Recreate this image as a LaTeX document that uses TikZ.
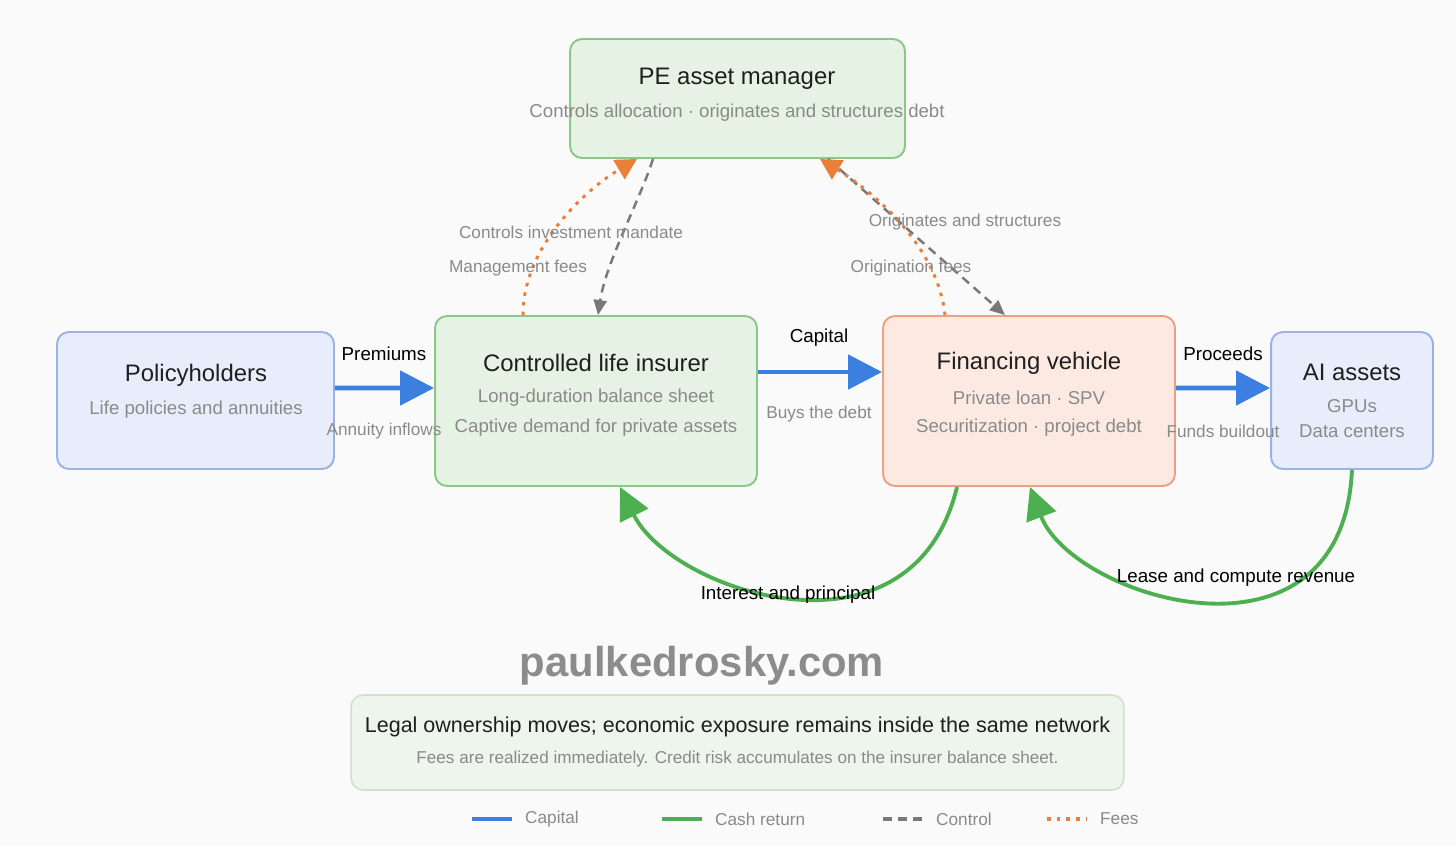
\documentclass[tikz,border=0pt]{standalone}
\usepackage{fontspec}
\setmainfont{Liberation Sans}
\usepackage{xcolor}
\usetikzlibrary{arrows.meta, positioning, calc}

\definecolor{capblue}{HTML}{3B7FE0}
\definecolor{cashgreen}{HTML}{4CAF50}
\definecolor{ctrlgray}{HTML}{787878}
\definecolor{feeorange}{HTML}{E8803A}
\definecolor{boxgreen}{HTML}{E6F2E3}
\definecolor{edgegreen}{HTML}{8CC689}
\definecolor{boxblue}{HTML}{E8EDFB}
\definecolor{edgeblue}{HTML}{9AB2E6}
\definecolor{boxpeach}{HTML}{FCEAE2}
\definecolor{edgepeach}{HTML}{E9A282}
\definecolor{notefill}{HTML}{EEF5EC}
\definecolor{noteedge}{HTML}{CCE3C8}
\definecolor{subgray}{HTML}{8A8A8A}
\definecolor{bggray}{HTML}{FAFAFA}

\begin{document}
\begin{tikzpicture}[x=0.02cm, y=-0.02cm,
  box/.style={draw, rounded corners=0.24cm, line width=1.1pt, inner sep=0pt},
  greenbox/.style={box, fill=boxgreen, draw=edgegreen},
  bluebox/.style={box, fill=boxblue, draw=edgeblue},
  peachbox/.style={box, fill=boxpeach, draw=edgepeach},
  title/.style={font=\fontsize{13.6}{16}\selectfont, text=black!88},
  sub/.style={font=\fontsize{10.6}{13}\selectfont, text=subgray},
  lab/.style={font=\fontsize{9.8}{12}\selectfont, text=subgray},
  keylab/.style={font=\fontsize{10.7}{13}\selectfont, text=black},
  capline/.style={capblue, line width=2.8pt},
  cashline/.style={cashgreen, line width=2.2pt},
  ctrlline/.style={ctrlgray, line width=1.4pt, dash pattern=on 5pt off 3.5pt},
  feeline/.style={feeorange, line width=1.7pt, dash pattern=on 2pt off 3.5pt},
  captip/.style={-{Triangle[length=0.68cm, width=0.68cm]}},
  cashtip/.style={-{Triangle[length=0.64cm, width=0.62cm]}},
  ctrltip/.style={-{Triangle[length=0.3cm, width=0.26cm]}},
  feetip/.style={-{Triangle[length=0.42cm, width=0.44cm]}}]
\fill[bggray] (0,0) rectangle (1456,846);

% Boxes
\node[greenbox, minimum width=6.7cm, minimum height=2.38cm] (pe) at (737.5,98.5) {};
\node[bluebox, minimum width=5.54cm, minimum height=2.74cm] (ph) at (195.5,400.5) {};
\node[greenbox, minimum width=6.44cm, minimum height=3.4cm] (ins) at (596,401) {};
\node[peachbox, minimum width=5.84cm, minimum height=3.4cm] (fv) at (1029,401) {};
\node[bluebox, minimum width=3.24cm, minimum height=2.74cm] (ai) at (1352,400.5) {};

\node[title] (pe-t) at (737,79) {PE asset manager};
\node[sub] (pe-s) at (737,113) {Controls allocation · originates and structures debt};
\node[title] (ph-t) at (196,375) {Policyholders};
\node[sub] (ph-s) at (196,410) {Life policies and annuities};
\node[title] (ins-t) at (596,363) {Controlled life insurer};
\node[sub] (ins-s1) at (596,398) {Long-duration balance sheet};
\node[sub] (ins-s2) at (596,428) {Captive demand for private assets};
\node[title] (fv-t) at (1029,363) {Financing vehicle};
\node[sub] (fv-s1) at (1029,398) {Private loan · SPV};
\node[sub] (fv-s2) at (1029,428) {Securitization · project debt};
\node[title] (ai-t) at (1352,372) {AI assets};
\node[sub] (ai-s1) at (1352,406) {GPUs};
\node[sub] (ai-s2) at (1352,431) {Data centers};

% Capital
\draw[capline, captip] ([yshift=0.25cm]ph.east) -- ([yshift=0.26cm]ins.west);
\draw[capline, captip] ([yshift=0.58cm]ins.east) -- ([yshift=0.58cm]fv.west);
\draw[capline, captip] ([yshift=0.26cm]fv.east) -- ([yshift=0.25cm]ai.west);
\node[keylab] (l-prem) at (384,354) {Premiums};
\node[lab] (l-ann) at (384,431) {Annuity inflows};
\node[keylab] (l-cap) at (819,338) {Capital};
\node[lab] (l-buy) at (819,414) {Buys the debt};
\node[keylab] (l-proc) at (1223,354) {Proceeds};
\node[lab] (l-fund) at (1223,431) {Funds buildout};

% Cash return
\draw[cashline, cashtip] ([xshift=-1.44cm]fv.south) .. controls (912,672) and (672,592) .. ([xshift=0.48cm]ins.south);
\draw[cashline, cashtip] (ai.south) .. controls (1342,682) and (1072,598) .. ([xshift=0.02cm]fv.south);
\node[keylab] (l-int) at (788,595) {Interest and principal};
\node[keylab] (l-lease) at (1236,578) {Lease and compute revenue};

% Control and fees
\draw[feeline, feetip] ([xshift=-1.46cm]ins.north) .. controls (523,245) and (588,188) .. ([xshift=-2.01cm]pe.south);
\draw[ctrlline, ctrltip] ([xshift=-1.69cm]pe.south) .. controls (640,200) and (606,262) .. ([xshift=0.04cm]ins.north);
\draw[ctrlline, ctrltip] ([xshift=1.81cm]pe.south) -- ([xshift=-0.48cm]fv.north);
\draw[feeline, feetip] ([xshift=-1.68cm]fv.north) .. controls (938,250) and (880,196) .. ([xshift=1.65cm]pe.south);
\node[lab] (l-mand) at (571,232) {Controls investment mandate};
\node[lab] (l-mgmt) at (518,268) {Management fees};
\node[lab] (l-orig) at (965,222) {Originates and structures};
\node[lab] (l-ofee) at (911,268) {Origination fees};

% Watermark and note
\node[font=\bfseries\fontsize{23.8}{28}\selectfont, text=black!45] (wm) at (702,666) {paulkedrosky.com};
\node[box, fill=notefill, draw=noteedge, line width=0.9pt, minimum width=15.46cm, minimum height=1.9cm] (note) at (737.5,742.5) {};
\node[title, font=\fontsize{12.25}{14}\selectfont] (note-t) at (737.5,727) {Legal ownership moves; economic exposure remains inside the same network};
\node[sub, font=\fontsize{9.75}{12}\selectfont] (note-s) at (737.5,759) {Fees are realized immediately. Credit risk accumulates on the insurer balance sheet.};

% Legend
\foreach \x/\sty/\txt [count=\i] in {472/capline/Capital, 662/cashline/Cash return, 883/ctrlline/Control, 1047/feeline/Fees} {
  \coordinate (k\i) at (\x,819);
  \draw[\sty, line width=2pt] (k\i) -- ++(40,0);
  \node[lab, font=\fontsize{9.8}{12}\selectfont, anchor=west] (key\i) at (\x+47,819) {\txt};
}
\end{tikzpicture}
\end{document}
